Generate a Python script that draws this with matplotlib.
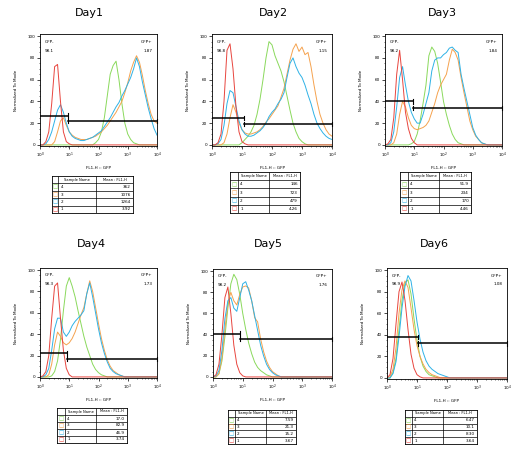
import numpy as np
import matplotlib.pyplot as plt

# log10 bin grid of the FL1-H histograms (10^0 .. 10^4)
log_bins = np.linspace(0, 4, 41)

days = ['Day1', 'Day2', 'Day3', 'Day4', 'Day5', 'Day6']
gfp_neg = ['98.1', '98.8', '98.2', '98.3', '98.2', '98.9']
gfp_pos = ['1.87', '1.15', '1.84', '1.73', '1.76', '1.08']
# gate: (GFP- bar height, GFP+ bar height, split in log10)
gates = [(27, 22, 0.97), (25, 19, 1.06), (40, 34, 0.95),
         (22, 17, 0.91), (41, 36, 0.90), (38, 32, 1.02)]
samples = ['4', '3', '2', '1']
means = [['362', '1076', '1264', '3.92'],
         ['146', '723', '479', '4.26'],
         ['51.9', '234', '170', '4.46'],
         ['17.0', '82.9', '46.9', '3.74'],
         ['7.59', '21.3', '15.2', '3.67'],
         ['6.47', '10.1', '8.30', '3.64']]

# histogram heights (normalized to mode) on log_bins
d1_red = [0, 0, 3, 12, 38, 72, 74, 40, 12, 3, 1, 0, 0, 0, 0, 0, 0, 0, 0, 0, 0,
          0, 0, 0, 0, 0, 0, 0, 0, 0, 0, 0, 0, 0, 0, 0, 0, 0, 0, 0, 0]
d1_blue = [0, 0, 1, 5, 12, 22, 32, 37, 30, 20, 12, 8, 6, 5, 4, 4, 5, 6, 7, 9, 11,
           13, 17, 21, 25, 30, 35, 39, 45, 50, 56, 62, 70, 80, 72, 58, 46, 34, 24, 15, 9]
d1_orange = [0, 0, 0, 0, 0, 3, 12, 22, 25, 18, 12, 9, 7, 6, 5, 5, 5, 6, 7, 8, 10,
             12, 15, 18, 22, 26, 30, 35, 40, 48, 57, 68, 76, 82, 76, 64, 50, 38, 28, 22, 20]
d1_green = [0, 0, 0, 0, 0, 0, 0, 0, 0, 0, 0, 0, 0, 0, 0, 0, 0, 0, 0, 2, 5,
            12, 25, 45, 65, 73, 77, 60, 38, 20, 10, 5, 2, 1, 0, 0, 0, 0, 0, 0, 0]

d2_red = [0, 0, 2, 10, 40, 87, 93, 70, 35, 12, 3, 1, 0, 0, 0, 0, 0, 0, 0, 0, 0,
          0, 0, 0, 0, 0, 0, 0, 0, 0, 0, 0, 0, 0, 0, 0, 0, 0, 0, 0, 0]
d2_blue = [0, 0, 1, 5, 18, 38, 50, 48, 35, 22, 14, 10, 8, 8, 9, 11, 13, 16, 20, 26, 30,
           33, 38, 42, 48, 62, 75, 80, 72, 66, 62, 55, 46, 38, 28, 20, 15, 11, 8, 6, 5]
d2_orange = [0, 0, 0, 0, 2, 10, 25, 37, 30, 20, 14, 11, 10, 10, 11, 12, 14, 17, 21, 24, 28,
             32, 36, 44, 52, 65, 78, 88, 93, 86, 90, 83, 85, 72, 55, 40, 28, 20, 14, 10, 8]
d2_green = [0, 0, 0, 0, 0, 0, 0, 0, 0, 0, 2, 5, 8, 12, 18, 28, 42, 60, 80, 95, 92,
            82, 75, 68, 58, 45, 32, 20, 12, 6, 3, 1, 0, 0, 0, 0, 0, 0, 0, 0, 0]

d3_red = [0, 1, 5, 25, 65, 87, 60, 30, 15, 6, 2, 0, 0, 0, 0, 0, 0, 0, 0, 0, 0,
          0, 0, 0, 0, 0, 0, 0, 0, 0, 0, 0, 0, 0, 0, 0, 0, 0, 0, 0, 0]
d3_blue = [0, 0, 2, 12, 35, 62, 72, 55, 40, 30, 24, 20, 20, 28, 38, 48, 68, 78, 80, 80, 83,
           85, 89, 90, 87, 85, 65, 52, 40, 28, 16, 9, 5, 2, 1, 0, 0, 0, 0, 0, 0]
d3_orange = [0, 0, 0, 2, 10, 28, 40, 35, 25, 18, 15, 14, 15, 16, 18, 22, 30, 38, 48, 55, 60,
             65, 78, 88, 85, 78, 62, 48, 35, 22, 14, 8, 5, 2, 1, 0, 0, 0, 0, 0, 0]
d3_green = [0, 0, 0, 0, 0, 0, 0, 0, 0, 1, 3, 10, 22, 38, 55, 82, 90, 86, 75, 58, 40,
            28, 18, 10, 5, 2, 1, 0, 0, 0, 0, 0, 0, 0, 0, 0, 0, 0, 0, 0, 0]

d4_red = [0, 1, 5, 20, 55, 85, 88, 55, 25, 8, 2, 0, 0, 0, 0, 0, 0, 0, 0, 0, 0,
          0, 0, 0, 0, 0, 0, 0, 0, 0, 0, 0, 0, 0, 0, 0, 0, 0, 0, 0, 0]
d4_blue = [0, 0, 2, 8, 25, 45, 55, 55, 42, 38, 42, 48, 52, 55, 58, 62, 78, 88, 75, 60, 45,
           32, 22, 14, 8, 5, 3, 2, 1, 0, 0, 0, 0, 0, 0, 0, 0, 0, 0, 0, 0]
d4_orange = [0, 0, 0, 2, 12, 30, 42, 38, 32, 30, 32, 36, 42, 50, 58, 65, 78, 90, 80, 65, 50,
             36, 25, 16, 10, 6, 4, 2, 1, 0, 0, 0, 0, 0, 0, 0, 0, 0, 0, 0, 0]
d4_green = [0, 0, 0, 0, 1, 5, 15, 35, 62, 85, 93, 85, 75, 62, 50, 38, 28, 20, 12, 7, 4,
            2, 1, 0, 0, 0, 0, 0, 0, 0, 0, 0, 0, 0, 0, 0, 0, 0, 0, 0, 0]

d5_red = [0, 2, 12, 40, 75, 85, 60, 30, 12, 4, 1, 0, 0, 0, 0, 0, 0, 0, 0, 0, 0,
          0, 0, 0, 0, 0, 0, 0, 0, 0, 0, 0, 0, 0, 0, 0, 0, 0, 0, 0, 0]
d5_blue = [0, 1, 6, 25, 55, 72, 75, 65, 62, 75, 88, 90, 82, 72, 58, 44, 30, 20, 12, 7, 4,
           2, 1, 0, 0, 0, 0, 0, 0, 0, 0, 0, 0, 0, 0, 0, 0, 0, 0, 0, 0]
d5_orange = [0, 0, 3, 18, 45, 70, 80, 72, 68, 78, 85, 86, 84, 72, 56, 52, 36, 24, 15, 9, 5,
             3, 1, 0, 0, 0, 0, 0, 0, 0, 0, 0, 0, 0, 0, 0, 0, 0, 0, 0, 0]
d5_green = [0, 0, 3, 15, 38, 65, 88, 97, 92, 78, 60, 45, 32, 22, 14, 9, 6, 4, 2, 1, 0,
            0, 0, 0, 0, 0, 0, 0, 0, 0, 0, 0, 0, 0, 0, 0, 0, 0, 0, 0, 0]

d6_red = [0, 3, 18, 50, 80, 89, 72, 45, 22, 9, 3, 1, 0, 0, 0, 0, 0, 0, 0, 0, 0,
          0, 0, 0, 0, 0, 0, 0, 0, 0, 0, 0, 0, 0, 0, 0, 0, 0, 0, 0, 0]
d6_blue = [0, 0, 4, 15, 38, 65, 85, 95, 90, 72, 52, 36, 24, 16, 11, 8, 6, 4, 3, 2, 1,
           0, 0, 0, 0, 0, 0, 0, 0, 0, 0, 0, 0, 0, 0, 0, 0, 0, 0, 0, 0]
d6_orange = [0, 1, 8, 28, 60, 82, 90, 84, 65, 45, 30, 20, 13, 8, 5, 3, 2, 1, 0, 0, 0,
             0, 0, 0, 0, 0, 0, 0, 0, 0, 0, 0, 0, 0, 0, 0, 0, 0, 0, 0, 0]
d6_green = [0, 0, 5, 18, 45, 72, 88, 91, 78, 55, 35, 20, 11, 6, 3, 2, 1, 0, 0, 0, 0,
            0, 0, 0, 0, 0, 0, 0, 0, 0, 0, 0, 0, 0, 0, 0, 0, 0, 0, 0, 0]

curves = [(d1_green, d1_orange, d1_blue, d1_red),
          (d2_green, d2_orange, d2_blue, d2_red),
          (d3_green, d3_orange, d3_blue, d3_red),
          (d4_green, d4_orange, d4_blue, d4_red),
          (d5_green, d5_orange, d5_blue, d5_red),
          (d6_green, d6_orange, d6_blue, d6_red)]

colors = ['#8ad95c', '#f5a24e', '#2fb2e6', '#e8453e']  # samples 4,3,2,1

# layout in pixels: axes (l, t, r, b), title (x, y), table (l, t, r, b), column dividers
W, H = 517, 457
layout = [
    ((40, 34, 157, 146), (89, 13), (52, 176, 133, 213), (58, 96)),
    ((212, 34, 332, 146), (273, 13), (230, 172, 300, 213), (238, 269)),
    ((385, 34, 502, 146), (442, 13), (400, 172, 471, 213), (408, 439)),
    ((40, 268, 157, 378), (91, 244), (57, 408, 127, 443), (65, 96)),
    ((213, 269, 332, 378), (268, 244), (228, 410, 296, 444), (235, 266)),
    ((387, 268, 507, 379), (434, 244), (405, 410, 477, 444), (412, 443)),
]

fig = plt.figure(figsize=(W / 100, H / 100), dpi=100)


def px_axes(l, t, r, b):
    return fig.add_axes([l / W, 1 - b / H, (r - l) / W, (b - t) / H])


fs = 3.0
for i in range(6):
    (al, at, ar, ab), (tx, ty), (tl, tt, tr, tb), (c1, c2) = layout[i]
    ax = px_axes(al, at, ar, ab)
    for ys, c in zip(curves[i], colors):
        ax.plot(10 ** log_bins, ys, color=c, lw=0.7)
    ax.set_xscale('log')
    ax.set_xlim(1, 1e4)
    ax.set_ylim(-1, 102)
    ax.set_xticks([1, 10, 100, 1000, 10000])
    ax.set_xticklabels(['$10^{0}$', '$10^{1}$', '$10^{2}$', '$10^{3}$', '$10^{4}$'])
    ax.set_yticks([0, 20, 40, 60, 80, 100])
    ax.set_yticks(np.arange(0, 101, 5), minor=True)
    ax.tick_params(labelsize=fs, length=2, width=0.5, pad=1.5)
    ax.tick_params(which='minor', length=1, width=0.4)
    for s in ax.spines.values():
        s.set_linewidth(0.6)
    ax.set_xlabel('FL1-H :: GFP', fontsize=fs, labelpad=4)
    ax.set_ylabel('Normalized To Mode', fontsize=fs, labelpad=7)

    # gates
    yn, yp, sp = gates[i]
    xs = 10 ** sp
    ax.plot([1, xs], [yn, yn], color='black', lw=1.1)
    ax.plot([xs, 1e4], [yp, yp], color='black', lw=1.1)
    ax.plot([xs, xs], [yn - 2, yn + 2], color='black', lw=0.8)
    ax.plot([xs, xs], [yp - 2, yp + 2], color='black', lw=0.8)
    ax.plot([1e4, 1e4], [yp - 2, yp + 2], color='black', lw=0.8, clip_on=False)

    ax.text(0.04, 0.95, 'GFP-', transform=ax.transAxes, fontsize=fs, va='top')
    ax.text(0.04, 0.87, gfp_neg[i], transform=ax.transAxes, fontsize=fs, va='top')
    ax.text(0.96, 0.95, 'GFP+', transform=ax.transAxes, fontsize=fs, va='top', ha='right')
    ax.text(0.96, 0.87, gfp_pos[i], transform=ax.transAxes, fontsize=fs, va='top', ha='right')

    fig.text(tx / W, 1 - ty / H, days[i], fontsize=8, ha='center', va='center')

    # table
    tax = px_axes(tl, tt, tr, tb)
    tax.set_xlim(0, 1)
    tax.set_ylim(0, 5)
    tax.set_xticks([])
    tax.set_yticks([])
    for s in tax.spines.values():
        s.set_linewidth(0.6)
    f1 = (c1 - tl) / (tr - tl)
    f2 = (c2 - tl) / (tr - tl)
    tax.vlines([f1, f2], 0, 5, color='black', lw=0.5)
    tax.hlines([1, 2, 3, 4], 0, 1, color='black', lw=0.5)
    tax.text((f1 + f2) / 2, 4.5, 'Sample Name', fontsize=2.6, va='center', ha='center')
    tax.text((f2 + 1) / 2, 4.5, 'Mean : FL1-H', fontsize=2.6, va='center', ha='center')
    for r in range(4):
        yc = 3.5 - r
        tax.text(f1 / 2, yc, '\u25a1', color=colors[r], fontsize=fs + 1, ha='center', va='center')
        tax.text(f1 + 0.03, yc, samples[r], fontsize=fs, va='center')
        tax.text(0.97, yc, means[i][r], fontsize=fs, va='center', ha='right')

fig.savefig('out.png', dpi=100)
